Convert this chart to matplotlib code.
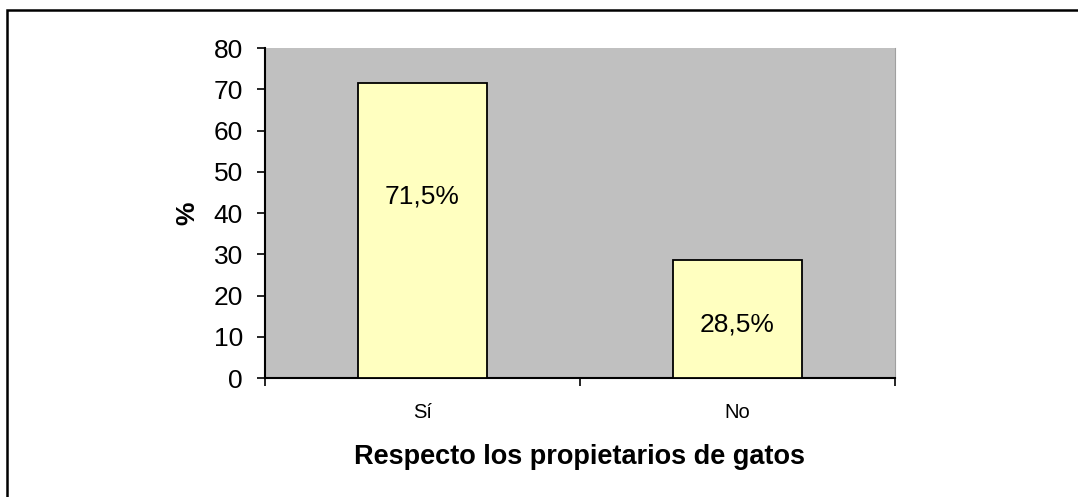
#! /bin/python3

from matplotlib import pyplot as plt
import matplotlib.ticker as mticker
from matplotlib.patches import Rectangle

categories = ["Sí", "No"]
values = [71.5, 28.5]
bar_labels = ["71,5%", "28,5%"]
y_ticks = [0, 10, 20, 30, 40, 50, 60, 70, 80]


def main():
    plt.rcParams['font.family'] = ['Liberation Sans', 'DejaVu Sans']

    # SET FIGURE
    fig = plt.figure(figsize=(10.78, 4.97), dpi=100)
    ax = fig.add_axes([0.2458, 0.2394, 0.5844, 0.664])
    ax.set_facecolor('#C0C0C0')

    # outer frame (right and bottom edges fall outside the picture)
    fig.patches.append(Rectangle((7 / 1078, -0.1), 1.2, 1.1 - 10 / 497,
                                 transform=fig.transFigure, fill=False,
                                 edgecolor='black', linewidth=1.8))

    # BARS
    x = list(range(len(categories)))
    bars = ax.bar(x, values, width=0.41, color='#FFFFC0',
                  edgecolor='black', linewidth=1.3, zorder=3)
    # label heights as placed in the original (not exactly mid-bar)
    label_y = [44, 13]
    for bar, label, ly in zip(bars, bar_labels, label_y):
        ax.text(bar.get_x() + bar.get_width() / 2, ly,
                label, ha='center', va='center', fontsize=19, zorder=4)

    # AXES
    ax.set_xlim(-0.5, 1.5)
    ax.set_ylim(0, 80)
    ax.set_yticks(y_ticks)
    ax.tick_params(axis='y', direction='out', length=6, width=1.2,
                   labelsize=19, pad=10)
    ax.set_xticks(x)
    ax.set_xticklabels(categories)
    ax.tick_params(axis='x', which='major', length=0, labelsize=14.5,
                   pad=18)
    ax.xaxis.set_minor_locator(mticker.FixedLocator([-0.5, 0.5, 1.5]))
    ax.tick_params(axis='x', which='minor', direction='out', length=6,
                   width=1.2)

    ax.spines['top'].set_visible(False)
    ax.spines['right'].set_color('#A0A0A0')
    ax.spines['left'].set_linewidth(1.5)
    ax.spines['bottom'].set_linewidth(1.5)

    # TITLES
    ax.set_ylabel("%", fontsize=19, fontweight='bold', labelpad=10)
    ax.set_xlabel("Respecto los propietarios de gatos", fontsize=19.5,
                  fontweight='bold', labelpad=16)

    fig.savefig("out.png", dpi=100)


if __name__ == "__main__":
    main()
